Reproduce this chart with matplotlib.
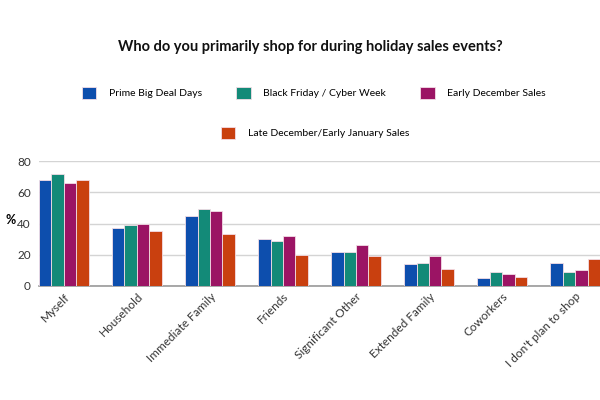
import matplotlib.pyplot as plt
import numpy as np
from matplotlib.patches import Patch

plt.rcParams['font.family'] = ['Lato', 'DejaVu Sans']

categories = ["Myself", "Household", "Immediate Family", "Friends",
              "Significant Other", "Extended Family", "Coworkers",
              "I don't plan to shop"]
series_names = ["Prime Big Deal Days", "Black Friday / Cyber Week",
                "Early December Sales", "Late December/Early January Sales"]
prime = [68, 37, 45, 30, 22, 14, 5, 15]
black_friday = [72, 39, 49, 29, 22, 15, 9, 9]
early_dec = [66, 40, 48, 32, 26, 19, 8, 10]
late_dec = [68, 35, 33, 20, 19, 11, 6, 17]
colors = ["#0D4EAD", "#138A78", "#9B1464", "#C9400F"]

fig = plt.figure(figsize=(6, 4), dpi=100)
ax = fig.add_axes([0.065, 0.285, 0.935, 0.3125])

x = np.arange(len(categories))
w = 0.171
for i, vals in enumerate([prime, black_friday, early_dec, late_dec]):
    ax.bar(x + (i - 1.5) * w, vals, w, color=colors[i],
           edgecolor="#f3dde6", linewidth=0.6, zorder=3)

ax.set_xlim(-2 * w, len(categories) - 1 + 2 * w)
ax.set_ylim(0, 80)
ax.set_yticks([0, 20, 40, 60, 80])
ax.grid(axis="y", color="#d4d4d4", linewidth=1, zorder=0)
for s in ["top", "right", "left"]:
    ax.spines[s].set_visible(False)
ax.spines["bottom"].set_color("#999999")
ax.spines["bottom"].set_linewidth(1.2)
ax.tick_params(axis="both", length=0, labelsize=8.5, colors="#333333")
ax.tick_params(axis="y", pad=6)
ax.set_xticks(x)
ax.set_xticklabels(categories, rotation=45, ha="right", rotation_mode="anchor")
fig.text(0.018, 0.45, "%", ha="center", va="center", fontweight="bold", fontsize=9)

fig.text(0.517, 0.883, "Who do you primarily shop for during holiday sales events?",
         ha="center", va="center", fontsize=10.5, fontweight="bold", color="#111111")

handles = [Patch(facecolor=c, edgecolor="#f3dde6", linewidth=0.6) for c in colors]
fig.legend(handles[:3], series_names[:3], loc="center", bbox_to_anchor=(0.523, 0.768),
           ncol=3, frameon=False, fontsize=7.5, handlelength=1.4, handleheight=1.4,
           columnspacing=3.3, handletextpad=1.2)
fig.legend(handles[3:], series_names[3:], loc="center", bbox_to_anchor=(0.525, 0.668),
           ncol=1, frameon=False, fontsize=7.5, handlelength=1.4, handleheight=1.4,
           handletextpad=1.2)

fig.savefig("out.png", dpi=100)
